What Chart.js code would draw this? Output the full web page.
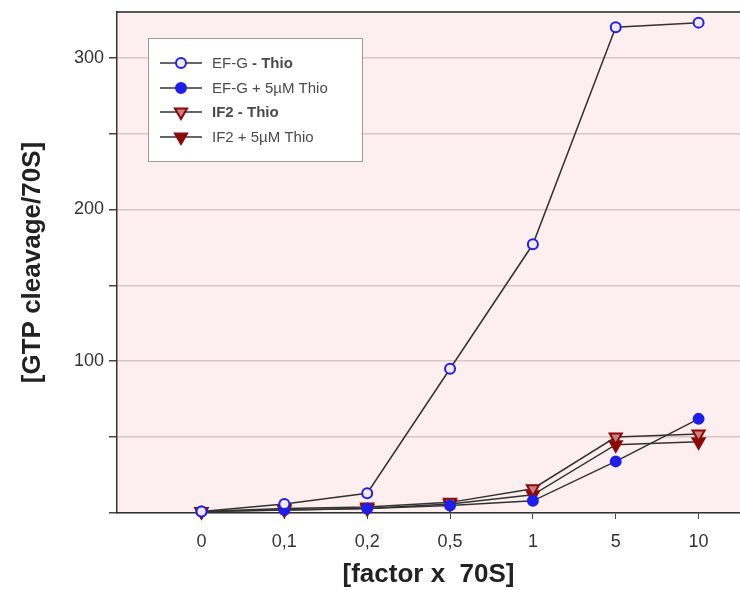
<!DOCTYPE html>
<html>
<head>
<meta charset="utf-8">
<script src="https://cdn.jsdelivr.net/npm/chart.js@4.4.1/dist/chart.umd.min.js"></script>
<style>
  html, body { margin: 0; padding: 0; background: #fff; }
  #wrap { width: 740px; height: 590px; }
</style>
</head>
<body>
<div id="wrap"><canvas id="c" width="740" height="590"></canvas></div>
<script>
// Valores (GTP cleavage por 70S)
const xLabels = ["0", "0,1", "0,2", "0,5", "1", "5", "10"];
const efgMinus = [1, 6, 13, 95, 177, 320, 323];
const efgPlus = [1, 2, 3, 5, 8, 34, 62];
const if2Minus = [1, 3, 4, 7, 16, 50, 52];
const if2Plus = [1, 2, 3, 6, 12, 45, 47];
const yLabeled = [100, 200, 300];

const BLUE = "#1f1fe6", RED = "#8a0a0a", LINE = "#333333";
const FONT = "'Liberation Sans', Arial, sans-serif";
const pts = (arr) => arr.map((v, i) => ({ x: i, y: v }));

// Estilos de cada serie (también los usa la leyenda)
const series = [
  { label: [["EF-G ", false], ["- Thio", true]], data: efgMinus, style: "circle", color: BLUE, fill: "#f4e8f4", r: 5 },
  { label: [["EF-G + 5µM Thio", false]], data: efgPlus, style: "circle", color: BLUE, fill: BLUE, r: 5 },
  { label: [["IF2 - Thio", true]], data: if2Minus, style: "triangle", color: RED, fill: "#c98080", r: 7 },
  { label: [["IF2 + 5µM Thio", false]], data: if2Plus, style: "triangle", color: RED, fill: RED, r: 7 },
];

// Fondo rosado del área de trazado + línea superior
const plotBg = {
  id: "plotBg",
  beforeDraw(chart) {
    const { ctx, chartArea: a } = chart;
    ctx.save();
    ctx.fillStyle = "#fdeef0";
    ctx.fillRect(a.left, a.top, a.right - a.left, a.bottom - a.top);
    ctx.restore();
  },
  afterDraw(chart) {
    const { ctx, chartArea: a } = chart;
    ctx.save();
    ctx.strokeStyle = "#222";
    ctx.lineWidth = 1.5;
    ctx.beginPath();
    ctx.moveTo(a.left, a.top); ctx.lineTo(a.right, a.top);
    ctx.stroke();
    ctx.restore();
  }
};

// Leyenda propia: permite partes en negrita dentro de una misma etiqueta
const boxLegend = {
  id: "boxLegend",
  afterDraw(chart) {
    const ctx = chart.ctx;
    const bx = 148, by = 38, bw = 214, bh = 123;
    ctx.save();
    ctx.fillStyle = "#ffffff";
    ctx.fillRect(bx, by, bw, bh);
    ctx.strokeStyle = "#9a9a9a";
    ctx.lineWidth = 1;
    ctx.strokeRect(bx + 0.5, by + 0.5, bw, bh);
    const rows = [63, 88, 112, 137];
    series.forEach((s, i) => {
      const y = rows[i];
      ctx.strokeStyle = LINE;
      ctx.lineWidth = 1.5;
      ctx.beginPath(); ctx.moveTo(160, y); ctx.lineTo(202, y); ctx.stroke();
      ctx.fillStyle = s.fill; ctx.strokeStyle = s.color; ctx.lineWidth = 2;
      Chart.helpers.drawPoint(ctx, { pointStyle: s.style, radius: s.r, rotation: s.style === "triangle" ? 180 : 0, borderWidth: 2 }, 181, y);
      let x = 212;
      ctx.textBaseline = "middle";
      ctx.fillStyle = "#4a4a4a";
      s.label.forEach(([txt, bold]) => {
        ctx.font = (bold ? "bold " : "") + "15px " + FONT;
        ctx.fillText(txt, x, y + 1);
        x += ctx.measureText(txt).width;
      });
    });
    ctx.restore();
  }
};

new Chart(document.getElementById("c"), {
  type: "line",
  data: {
    datasets: series.map((s) => ({
      data: pts(s.data),
      borderColor: LINE,
      borderWidth: 1.5,
      pointStyle: s.style,
      pointRotation: s.style === "triangle" ? 180 : 0,
      pointRadius: s.r,
      pointBorderColor: s.color,
      pointBackgroundColor: s.fill,
      pointBorderWidth: 2,
      tension: 0,
      clip: false,
    })),
  },
  options: {
    responsive: false,
    animation: false,
    layout: { autoPadding: false, padding: { top: 12, right: 0, left: 0, bottom: 0 } },
    plugins: { legend: { display: false }, tooltip: { enabled: false } },
    scales: {
      x: {
        type: "linear",
        min: -1.02, max: 6.5,
        afterBuildTicks: (sc) => { sc.ticks = xLabels.map((_, i) => ({ value: i })); },
        afterFit: (sc) => { sc.height = 77; sc.paddingRight = 0; sc.paddingLeft = 0; },
        ticks: {
          callback: (v) => xLabels[v],
          color: "#333", padding: 12, maxRotation: 0,
          font: { family: FONT, size: 18 },
        },
        grid: { drawOnChartArea: false, drawTicks: true, tickLength: 6, color: "#444" },
        border: { color: "#333", width: 1.5 },
        title: {
          display: true, text: "[factor x  70S]", color: "#222",
          font: { family: FONT, size: 26, weight: "bold" },
          padding: { top: 0, bottom: 0 },
        },
      },
      y: {
        min: 0, max: 330,
        afterBuildTicks: (sc) => { sc.ticks = [0, 50, 100, 150, 200, 250, 300].map((v) => ({ value: v })); },
        afterFit: (sc) => { sc.width = 117; sc.paddingTop = 0; sc.paddingBottom = 0; },
        ticks: {
          callback: (v) => (yLabeled.includes(v) ? String(v) : ""),
          color: "#333", padding: 5,
          font: { family: FONT, size: 18 },
        },
        grid: { color: "#d9c5c8", lineWidth: 1.5, tickLength: 8, tickColor: "#444" },
        border: { color: "#333", width: 1.5 },
        title: {
          display: true, text: "[GTP cleavage/70S]", color: "#222",
          font: { family: FONT, size: 26, weight: "bold" },
          padding: { top: 17, bottom: 0 },
        },
      },
    },
  },
  plugins: [plotBg, boxLegend],
});
</script>
</body>
</html>
